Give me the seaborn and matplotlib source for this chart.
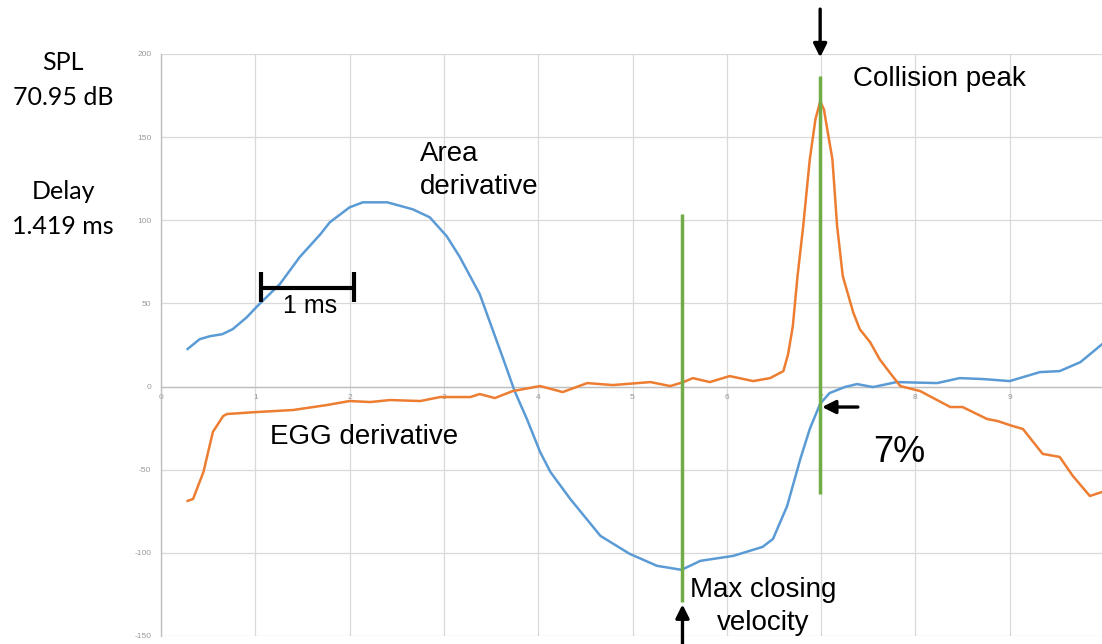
import matplotlib
matplotlib.use("Agg")
import matplotlib.pyplot as plt
import pandas as pd
import seaborn as sns

# ---------------- data ----------------
area_t = [0.28, 0.41, 0.52, 0.65, 0.76, 0.91, 1.02, 1.26, 1.47, 1.69, 1.79, 2.00, 2.14,
          2.40, 2.67, 2.85, 3.03, 3.17, 3.38, 3.63, 3.75, 3.88, 4.02, 4.13, 4.34, 4.66,
          4.97, 5.26, 5.52, 5.72, 6.07, 6.38, 6.49, 6.64, 6.78, 6.88, 6.99, 7.09, 7.25,
          7.38, 7.55, 7.80, 8.23, 8.47, 8.72, 9.00, 9.32, 9.53, 9.75, 9.98]
area_v = [22.5, 28.5, 30.3, 31.5, 34.5, 41.7, 48.3, 61.6, 77.8, 91.6, 98.8, 107.8, 110.8,
          110.8, 106.6, 101.8, 90.4, 77.8, 55.6, 16.5, -2.7, -19.5, -39.3, -51.4, -67.6,
          -89.8, -100.6, -107.8, -110.2, -104.8, -101.8, -96.4, -91.6, -71.8, -43.5,
          -25.5, -10.3, -3.9, -0.3, 1.5, -0.3, 2.7, 2.1, 5.1, 4.5, 3.3, 8.7, 9.3, 14.7, 25.5]

egg_t = [0.28, 0.34, 0.45, 0.55, 0.66, 0.70, 1.02, 1.40, 1.76, 2.00, 2.22, 2.43, 2.75,
         2.96, 3.28, 3.38, 3.54, 3.73, 4.02, 4.26, 4.52, 4.79, 5.19, 5.40, 5.54, 5.64,
         5.82, 6.03, 6.28, 6.46, 6.60, 6.65, 6.70, 6.75, 6.81, 6.88, 6.94, 6.99, 7.03,
         7.06, 7.12, 7.17, 7.23, 7.34, 7.41, 7.52, 7.62, 7.70, 7.84, 8.05, 8.37, 8.50,
         8.76, 8.87, 9.03, 9.14, 9.35, 9.53, 9.67, 9.85, 9.98]
egg_v = [-68.8, -67.6, -51.4, -27.3, -17.7, -16.5, -15.3, -14.1, -11.1, -8.7, -9.3, -8.1,
         -8.7, -6.3, -6.3, -4.5, -6.9, -2.7, 0.3, -3.3, 2.1, 0.9, 2.7, 0.3, 2.7, 5.1, 2.7,
         6.3, 3.3, 5.1, 9.3, 19.5, 36.3, 66.4, 96.4, 136.6, 160.7, 171.5, 166.7, 156.5,
         136.6, 96.4, 66.4, 44.7, 34.5, 26.7, 16.5, 10.5, 0.3, -2.7, -12.3, -12.3, -19.5,
         -20.7, -23.7, -25.5, -40.5, -42.3, -53.8, -65.8, -63.4]

x_ticks = [0, 1, 2, 3, 4, 5, 6, 7, 8, 9, 10]
x_tick_labels = ['0', '1', '2', '3', '4', '5', '6', '7', '8', '9', '']
y_ticks = [-150, -100, -50, 0, 50, 100, 150, 200]

marker_t = [5.52, 6.99]
marker_lo = [-129.5, -64.5]
marker_hi = [103.5, 186.5]

scale_bar_t = [1.06, 2.05]
scale_bar_v = 59.2

# ---------------- style ----------------
sns.set_theme(style="white")
plt.rcParams['font.family'] = ['Liberation Sans', 'DejaVu Sans']

W, H = 1102, 644
fig = plt.figure(figsize=(W / 100, H / 100), dpi=100)
ax = fig.add_axes([161 / W, 8 / H, 943 / W, 582 / H])

BLUE = '#5b9bd5'
ORANGE = '#ed7d31'
GREEN = '#70ad47'

df_area = pd.DataFrame({'t': area_t, 'v': area_v})
df_egg = pd.DataFrame({'t': egg_t, 'v': egg_v})

sns.lineplot(data=df_area, x='t', y='v', ax=ax, color=BLUE, lw=1.8,
             estimator=None, sort=False, zorder=3)
sns.lineplot(data=df_egg, x='t', y='v', ax=ax, color=ORANGE, lw=1.8,
             estimator=None, sort=False, zorder=3)

ax.vlines(marker_t, marker_lo, marker_hi, colors=GREEN, lw=2.5, zorder=4)

ax.set_xlim(0, 10)
ax.set_ylim(-150, 200)
ax.set_xticks(x_ticks)
ax.set_yticks(y_ticks)
ax.set_xticklabels(x_tick_labels)
ax.set_yticklabels([str(t) for t in y_ticks])
ax.set_xlabel('')
ax.set_ylabel('')

ax.grid(True, color='#d9d9d9', lw=0.9, zorder=0)
ax.set_axisbelow(True)
for s in ['top', 'right']:
    ax.spines[s].set_visible(False)
ax.spines['left'].set_color('#bfbfbf')
ax.spines['left'].set_linewidth(1.0)
ax.spines['bottom'].set_position(('data', 0))
ax.spines['bottom'].set_color('#bfbfbf')
ax.spines['bottom'].set_linewidth(1.0)
ax.tick_params(axis='both', length=0, labelsize=6, labelcolor='#999999')
ax.tick_params(axis='y', pad=7)
ax.tick_params(axis='x', pad=5)
ax.set_facecolor('white')

# ---------------- annotations ----------------
arrow_kw = dict(arrowstyle='-|>', lw=2.4, color='black', mutation_scale=20,
                shrinkA=0, shrinkB=0)
ax.annotate('', xy=(marker_t[1], 198), xytext=(marker_t[1], 227),
            arrowprops=arrow_kw, annotation_clip=False)
ax.annotate('', xy=(marker_t[0] + 0.01, -131), xytext=(marker_t[0] + 0.01, -156),
            arrowprops=arrow_kw, annotation_clip=False)
ax.annotate('', xy=(7.01, -12.3), xytext=(7.39, -12.3),
            arrowprops=arrow_kw, annotation_clip=False)

# scale bar
ax.plot(scale_bar_t, [scale_bar_v, scale_bar_v], color='black', lw=3, zorder=5,
        solid_capstyle='butt')
for t in scale_bar_t:
    ax.plot([t, t], [50.8, 68.8], color='black', lw=3, zorder=5, solid_capstyle='butt')
ax.text(1.58, 48.3, '1 ms', fontsize=18, ha='center', va='center', color='black')

ax.text(2.75, 130, 'Area\nderivative', fontsize=20, ha='left', va='center',
        linespacing=1.38, color='black')
ax.text(7.34, 185, 'Collision peak', fontsize=20, ha='left', va='center', color='black')
ax.text(1.16, -30.3, 'EGG derivative', fontsize=20, ha='left', va='center', color='black')
ax.text(7.55, -39.5, '7%', fontsize=26, ha='left', va='center', color='black')
ax.text(6.39, -132, 'Max closing\nvelocity', fontsize=20, ha='center', va='center',
        multialignment='center', linespacing=1.35, color='black', clip_on=False)

side_font = ['Lato', 'DejaVu Sans']
fig.text(63 / W, 1 - 80 / H, 'SPL\n70.95 dB', fontsize=18, ha='center', va='center',
         linespacing=1.6, family=side_font, color='black')
fig.text(63 / W, 1 - 209 / H, 'Delay\n1.419 ms', fontsize=18, ha='center', va='center',
         linespacing=1.6, family=side_font, color='black')

fig.savefig('out.png', dpi=100)
